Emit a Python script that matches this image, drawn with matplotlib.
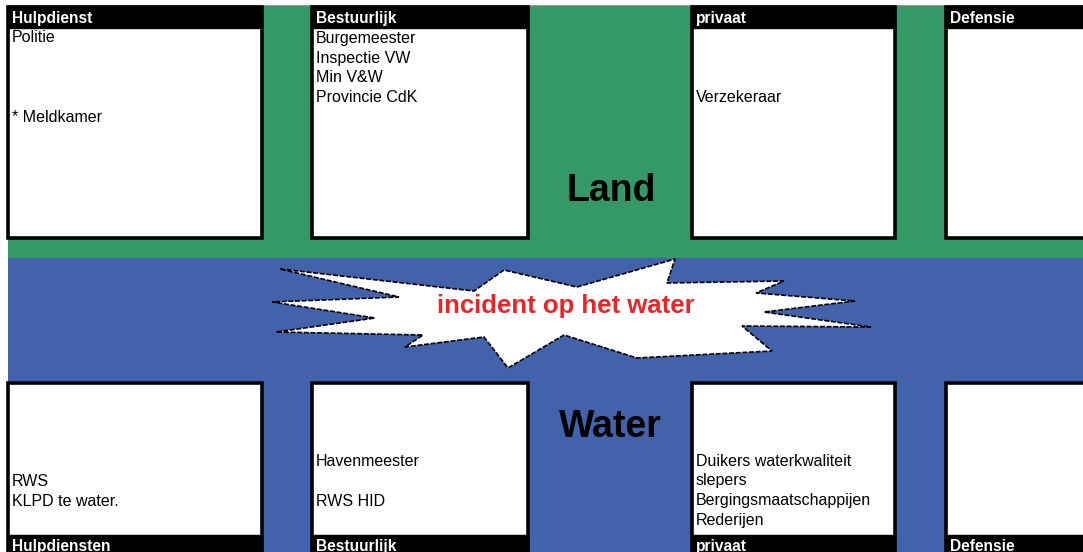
import matplotlib
matplotlib.use("Agg")
import matplotlib.pyplot as plt
from matplotlib.patches import Rectangle, Polygon

# ---- content ----
top_headers = ["Hulpdienst", "Bestuurlijk", "privaat", "Defensie"]
bottom_headers = ["Hulpdiensten", "Bestuurlijk", "privaat", "Defensie"]
top_lines = [
    ["Politie", "", "", "", "* Meldkamer"],
    ["Burgemeester", "Inspectie VW", "Min V&W", "Provincie CdK"],
    ["", "", "", "Verzekeraar"],
    [],
]
bottom_lines = [
    ["", "", "", "", "RWS", "KLPD te water."],
    ["", "", "", "Havenmeester", "", "RWS HID"],
    ["", "", "", "Duikers waterkwaliteit", "slepers", "Bergingsmaatschappijen", "Rederijen"],
    [],
]
land_label = "Land"
water_label = "Water"
incident_label = "incident op het water"

# ---- layout (pixels) ----
W, H = 1083, 552
GREEN = "#349966"
BLUE = "#4262AC"
box_x = [(8, 262), (312, 528), (692, 895), (946, 1095)]
top_y = (7, 238)
bot_y = (383, 556)
hdr_h = 21
line_step = 20

star = [(280, 269), (474, 291), (504, 270), (577, 287), (675, 259), (667, 283),
        (784, 281), (756, 293), (855, 301), (764, 312), (871, 327), (742, 326),
        (772, 351), (637, 358), (564, 335), (508, 368), (484, 337), (405, 347),
        (423, 335), (276, 332), (375, 318), (272, 302), (399, 297)]

fig = plt.figure(figsize=(W / 100, H / 100), dpi=100)
ax = fig.add_axes([0, 0, 1, 1])
ax.set_xlim(0, W)
ax.set_ylim(H, 0)
ax.axis("off")

ax.add_patch(Rectangle((8, 5), W, 253, facecolor=GREEN, edgecolor="none"))
ax.add_patch(Rectangle((8, 258), W, H - 258 + 5, facecolor=BLUE, edgecolor="none"))
ax.plot([8, W], [5, 5], color="#999999", lw=0.8)

FONT = "Liberation Sans"

def draw_box(x0, x1, y0, y1, header_top, header, lines, first_line_y):
    ax.add_patch(Rectangle((x0, y0), x1 - x0, y1 - y0, facecolor="white",
                           edgecolor="black", lw=2.6, zorder=2))
    hy = y0 if header_top else y1 - hdr_h
    ax.add_patch(Rectangle((x0, hy), x1 - x0, hdr_h, facecolor="black",
                           edgecolor="black", lw=1, zorder=3))
    ax.text(x0 + 4, hy + hdr_h / 2 + 1, header, color="white", fontsize=11.2,
            fontweight="bold", family=FONT, va="center", ha="left", zorder=4)
    for i, t in enumerate(lines):
        if t:
            ax.text(x0 + 4, first_line_y + i * line_step, t, color="black",
                    fontsize=11.5, family=FONT, va="center", ha="left", zorder=4)

for (x0, x1), hd, ln in zip(box_x, top_headers, top_lines):
    draw_box(x0, x1, top_y[0], top_y[1], True, hd, ln, 38)
for (x0, x1), hd, ln in zip(box_x, bottom_headers, bottom_lines):
    draw_box(x0, x1, bot_y[0], bot_y[1], False, hd, ln, 401)

ax.add_patch(Polygon(star, closed=True, facecolor="white", edgecolor="black",
                     lw=1.2, linestyle=(0, (3, 1)), zorder=5))
ax.text(566, 306, incident_label, color="#E8262A", fontsize=18.5,
        fontweight="bold", family=FONT, ha="center", va="center", zorder=6)
ax.text(611, 191, land_label, color="black", fontsize=27, fontweight="bold",
        family=FONT, ha="center", va="center", zorder=6)
ax.text(610, 427, water_label, color="black", fontsize=27, fontweight="bold",
        family=FONT, ha="center", va="center", zorder=6)

fig.savefig("out.png", dpi=100)
